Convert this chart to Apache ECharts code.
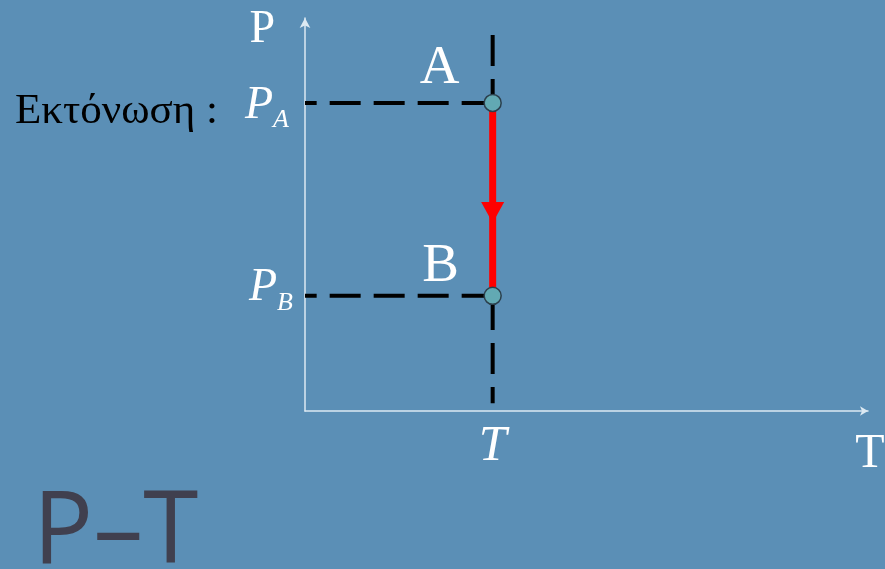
<!DOCTYPE html>
<html>
<head>
<meta charset="utf-8">
<script src="https://cdn.jsdelivr.net/npm/echarts@6/dist/echarts.min.js"></script>
<style>
  html, body { margin: 0; padding: 0; background: #5b8fb6; }
  #chart { width: 885px; height: 569px; }
</style>
</head>
<body>
<div id="chart"></div>
<script>
// values (axis units: T 0..30, P 0..100)
const T_VALUE = 10
const P_A = 78.4
const P_B = 29.3
const pointNames = ['A', 'B']
const pointValues = [[T_VALUE, P_A], [T_VALUE, P_B]]
const arrowValue = [T_VALUE, 50.5]          // middle of the A -> B path
const verticalGuide = [[T_VALUE, 95.7], [T_VALUE, 2.0]]
const yTickValues = [P_B, P_A]
const xTickValues = [T_VALUE]
const axisNames = { x: 'T', y: 'P' }
const sideText = 'Εκτόνωση :'
const bigTitle = 'P–T'

const serif = '"Liberation Serif", "DejaVu Serif", serif'
const chart = echarts.init(document.getElementById('chart'))

const dash = {
  type: 'line', symbol: 'none', silent: true, z: 2,
  lineStyle: { color: '#000', width: 4, type: [31, 13] }
}

const labelOffsets = [[-53, -34], [-52, -29]]

let option = {
  backgroundColor: '#5b8fb6',
  animation: false,
  grid: { left: 305, right: 17, top: 18, bottom: 158, outerBoundsMode: 'none', containLabel: false },
  xAxis: {
    type: 'value', min: 0, max: 30,
    name: axisNames.x, nameLocation: 'end', nameGap: 2,
    nameTextStyle: { color: '#fff', fontFamily: serif, fontSize: 48, align: 'center', verticalAlign: 'top', padding: [19, 0, 0, 0] },
    axisLine: { show: true, symbol: ['none', 'arrow'], symbolSize: [7, 8], lineStyle: { color: '#dce9f2', width: 1.5 } },
    axisTick: { show: false },
    splitLine: { show: false },
    axisLabel: {
      customValues: xTickValues, margin: 11,
      color: '#fff', fontFamily: serif, fontStyle: 'italic', fontSize: 50,
      formatter: () => 'T'
    }
  },
  yAxis: {
    type: 'value', min: 0, max: 100,
    name: axisNames.y, nameLocation: 'end', nameGap: -12,
    nameTextStyle: { color: '#fff', fontFamily: serif, fontSize: 46, align: 'right', verticalAlign: 'middle', padding: [0, 30, 0, 0] },
    axisLine: { show: true, symbol: ['none', 'arrow'], symbolSize: [8, 10], lineStyle: { color: '#dce9f2', width: 1.5 } },
    axisTick: { show: false },
    splitLine: { show: false },
    axisLabel: {
      customValues: yTickValues, margin: 12,
      formatter: v => v === P_A ? '{p|P}{subA|A}' : '{pb|P}{subB|B}',
      rich: {
        p:    { color: '#fff', fontFamily: serif, fontStyle: 'italic', fontSize: 46, padding: [6, 0, 0, 0] },
        pb:   { color: '#fff', fontFamily: serif, fontStyle: 'italic', fontSize: 46, padding: [0, 0, 16, 0] },
        subA: { color: '#fff', fontFamily: serif, fontStyle: 'italic', fontSize: 26, padding: [34, 4, 0, 0] },
        subB: { color: '#fff', fontFamily: serif, fontStyle: 'italic', fontSize: 26, padding: [14, 0, 0, 0] }
      }
    }
  },
  graphic: [
    { type: 'text', left: 15, top: 114 - 24, style: { text: sideText, fill: '#000', font: '43px ' + serif } },
    { type: 'text', left: 33, top: 485, style: { text: bigTitle, fill: '#40404f', font: '100px "Open Sans", "Noto Sans", sans-serif' } }
  ],
  series: [
    { ...dash, data: [[T_VALUE, P_A], [0, P_A]] },
    { ...dash, data: [[T_VALUE, P_B], [0, P_B]] },
    { ...dash, data: verticalGuide },
    {
      type: 'line', symbol: 'none', silent: true, z: 3,
      lineStyle: { color: '#ff0000', width: 7 },
      data: pointValues
    },
    {
      type: 'scatter', silent: true, z: 4,
      symbol: 'triangle', symbolRotate: 180, symbolSize: [23, 21],
      itemStyle: { color: '#ff0000', opacity: 1 },
      data: [arrowValue]
    },
    {
      type: 'scatter', silent: true, z: 5,
      symbol: 'circle', symbolSize: 17,
      itemStyle: { color: '#62a9b3', borderColor: '#2b3f4c', borderWidth: 1.5, opacity: 1 },
      data: pointValues.map((v, i) => ({
        value: v,
        label: {
          show: true, formatter: pointNames[i], position: 'inside', offset: labelOffsets[i],
          color: '#fff', fontFamily: serif, fontSize: 55
        }
      }))
    }
  ]
}

chart.setOption(option)
</script>
</body>
</html>
